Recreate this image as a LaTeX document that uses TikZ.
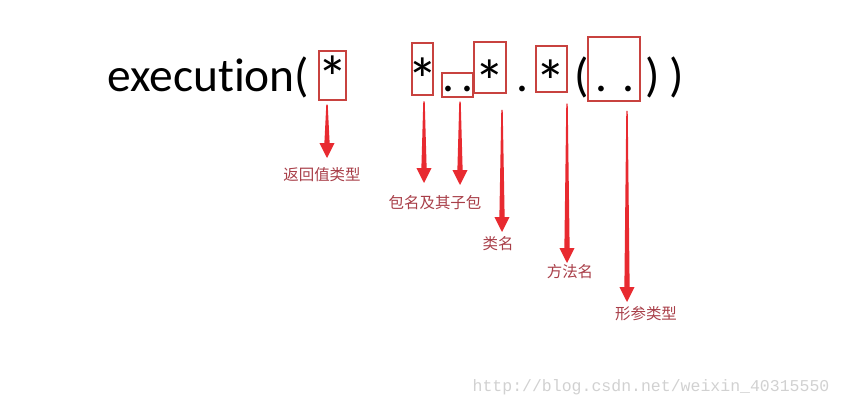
\documentclass[tikz,border=0pt]{standalone}
\usepackage{fontspec}
\setmainfont{Carlito}[Ligatures=NoCommon]
\newfontfamily\cjkfont{Noto Sans CJK SC}
\newfontfamily\wmfont{Liberation Mono}
\usetikzlibrary{calc}
\definecolor{boxred}{RGB}{200,66,63}
\definecolor{arrred}{RGB}{232,42,48}
\definecolor{labred}{RGB}{168,62,72}

\begin{document}
\begin{tikzpicture}[x=0.02cm, y=-0.02cm,
  code/.style={inner sep=0pt, anchor=base, font=\fontsize{27}{30}\selectfont},
  star/.style={inner sep=0pt, anchor=base, font=\fontsize{35}{38}\selectfont},
  hilite/.style={draw=boxred, line width=1.3pt, inner sep=0pt},
  lbl/.style={inner sep=0pt, font=\cjkfont\fontsize{8.8}{10}\selectfont, text=labred},
  taper/.style={fill=arrred, to path={let \p1=(\tikztostart), \p2=(\tikztotarget) in
    (\x1-0.4pt,\y1) -- (\x1+0.4pt,\y1) -- (\x2+1.5pt,\y2+8.5pt) -- (\x2+4.3pt,\y2+8.5pt)
    -- (\x2,\y2) -- (\x2-4.3pt,\y2+8.5pt) -- (\x2-1.5pt,\y2+8.5pt) -- cycle}},
  wm/.style={inner sep=0pt, font=\wmfont\fontsize{9.4}{11}\selectfont, text=black!18}
]
\useasboundingbox (0,0) rectangle (844,408);

\node[code, anchor=base west] (exe) at (107,92) {execution(};
\node[star] (ret) at (333,100) {*};
\node[star] (pkg) at (423,102) {*};
\node[code] (sub) at (458,92) {.\,.};
\node[star] (cls) at (490,104) {*};
\node[code] (dot) at (522,92) {.};
\node[star] (mth) at (551,104) {*};
\node[code] (lp) at (582,92) {(};
\node[code] (args) at (615,92) {.\,\,.};
\node[code] (rp1) at (653,92) {)};
\node[code] (rp2) at (677,92) {)};

\node[hilite, minimum width=15.3pt, minimum height=27.8pt] (b1) at (332.5,75.5) {};
\node[hilite, minimum width=11.9pt, minimum height=29.5pt] (b2) at (422.5,69) {};
\node[hilite, minimum width=17.6pt, minimum height=13.6pt] (b3) at (457.5,85) {};
\node[hilite, minimum width=18.1pt, minimum height=28.9pt] (b4) at (490,67.5) {};
\node[hilite, minimum width=17.6pt, minimum height=26.1pt] (b5) at (551.5,69) {};
\node[hilite, minimum width=29.5pt, minimum height=36.3pt] (b6) at (614,69) {};

\coordinate (t1) at (327,158);
\coordinate (t2) at (424,183);
\coordinate (t3) at (460,185);
\coordinate (t4) at (502,232);
\coordinate (t5) at (567,263);
\coordinate (t6) at (627,302);

\fill[taper] ($(b1.south -| t1)+(0,-2pt)$) to (t1);
\fill[taper] ($(b2.south -| t2)+(0,-3pt)$) to (t2);
\fill[taper] ($(b3.south -| t3)+(0,-2pt)$) to (t3);
\fill[taper] ($(b4.south -| t4)+(0,-9pt)$) to (t4);
\fill[taper] ($(b5.south -| t5)+(0,-6pt)$) to (t5);
\fill[taper] ($(b6.south -| t6)+(0,-5pt)$) to (t6);

\node[lbl] (l1) at (322,175) {返回值类型};
\node[lbl] (l2) at (435,203) {包名及其子包};
\node[lbl] (l3) at (498,244) {类名};
\node[lbl] (l4) at (570,272) {方法名};
\node[lbl] (l5) at (646,314) {形参类型};

\node[wm] (url) at (651,387) {http://blog.csdn.net/weixin\_40315550};
\end{tikzpicture}
\end{document}
